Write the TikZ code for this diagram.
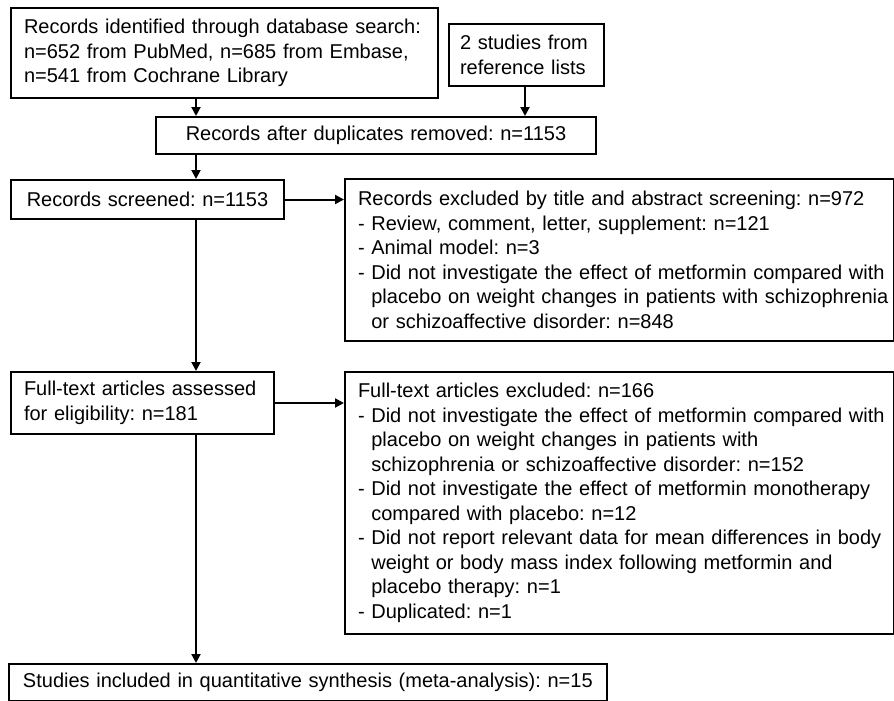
\documentclass[tikz,border=0pt]{standalone}
\usepackage{fontspec}
\setmainfont{Liberation Sans}
\usetikzlibrary{arrows.meta}
\newcommand{\hind}{\hphantom{-}\ }
\frenchspacing
\hyphenpenalty=10000
\exhyphenpenalty=10000
\begin{document}
\begin{tikzpicture}[x=1pt,y=-1pt,
  box/.style={draw, line width=2pt, anchor=north west, inner xsep=2pt, inner ysep=0pt,
    font=\fontsize{20}{24.5}\selectfont, align=left},
  arr/.style={line width=2pt, -{Triangle[length=9pt,width=9pt]}}]
\useasboundingbox (0,0) rectangle (894,701);
\node[box, minimum width=427pt, minimum height=90pt, text width=423pt] (b1) at (10,7)
  {\hspace*{11pt}Records identified through database search:\\ \hspace*{11pt}n=652 from PubMed, n=685 from Embase,\\ \hspace*{11pt}n=541 from Cochrane Library};
\node[box, minimum width=155pt, minimum height=62pt, text width=151pt] (b2) at (448,23)
  {\hspace*{9pt}2 studies from\\ \hspace*{9pt}reference lists};
\node[box, minimum width=440pt, minimum height=37pt, text width=436pt, align=center] (b3) at (155,116)
  {Records after duplicates removed: n=1153};
\node[box, minimum width=273pt, minimum height=39pt, text width=269pt, align=center] (b4) at (10,179)
  {Records screened: n=1153};
\node[box, minimum width=549pt, minimum height=162pt, text width=545pt] (b5) at (344,178)
  {\hspace*{11pt}Records excluded by title and abstract screening: n=972\\
   \hspace*{11pt}- Review, comment, letter, supplement: n=121\\
   \hspace*{11pt}- Animal model: n=3\\
   \hspace*{11pt}- Did not investigate the effect of metformin compared with\\
   \hspace*{11pt}\hind placebo on weight changes in patients with schizophrenia\\
   \hspace*{11pt}\hind or schizoaffective disorder: n=848};
\node[box, minimum width=263pt, minimum height=62pt, text width=259pt] (b6) at (10,371)
  {\hspace*{11pt}Full-text articles assessed\\ \hspace*{11pt}for eligibility: n=181};
\node[box, minimum width=549pt, minimum height=262pt, text width=545pt] (b7) at (344,371)
  {\hspace*{11pt}Full-text articles excluded: n=166\\
   \hspace*{11pt}- Did not investigate the effect of metformin compared with\\
   \hspace*{11pt}\hind placebo on weight changes in patients with\\
   \hspace*{11pt}\hind schizophrenia or schizoaffective disorder: n=152\\
   \hspace*{11pt}- Did not investigate the effect of metformin monotherapy\\
   \hspace*{11pt}\hind compared with placebo: n=12\\
   \hspace*{11pt}- Did not report relevant data for mean differences in body\\
   \hspace*{11pt}\hind weight or body mass index following metformin and\\
   \hspace*{11pt}\hind placebo therapy: n=1\\
   \hspace*{11pt}- Duplicated: n=1};
\node[box, minimum width=598pt, minimum height=37pt, text width=594pt] (b8) at (8,663)
  {\hspace*{12pt}Studies included in quantitative synthesis (meta-analysis): n=15};
\coordinate (mx) at (196,0);
\coordinate (rx) at (525,0);
\draw[arr] (b1.south -| mx) -- (b3.north -| mx);
\draw[arr] (b2.south -| rx) -- (b3.north -| rx);
\draw[arr] (b3.south -| mx) -- (b4.north -| mx);
\draw[arr] (b4.east) -- (b4.east -| b5.west);
\draw[arr] (b4.south -| mx) -- (b6.north -| mx);
\draw[arr] (b6.east) -- (b6.east -| b7.west);
\draw[arr] (b6.south -| mx) -- (b8.north -| mx);
\end{tikzpicture}
\end{document}
